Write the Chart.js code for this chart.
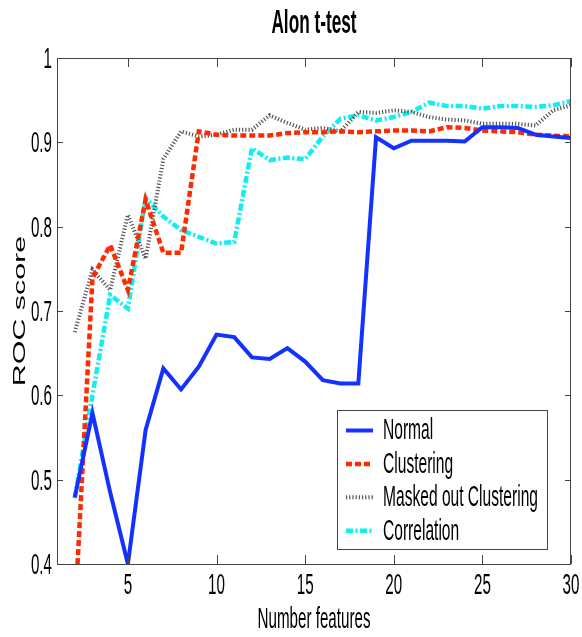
<!DOCTYPE html>
<html>
<head>
<meta charset="utf-8">
<script src="https://cdn.jsdelivr.net/npm/chart.js@4/dist/chart.umd.min.js"></script>
<style>
  html, body { margin: 0; padding: 0; background: #fff; }
  canvas { display: block; }
</style>
</head>
<body>
<canvas id="rocChart" width="582" height="637"></canvas>
<script>
// number of selected features
const features = [2, 3, 4, 5, 6, 7, 8, 9, 10, 11, 12, 13, 14, 15, 16, 17, 18, 19, 20, 21, 22, 23, 24, 25, 26, 27, 28, 29, 30];

// ROC score per method
const normal = [0.479, 0.579, 0.485, 0.400, 0.559, 0.632, 0.607, 0.634, 0.672, 0.669, 0.645, 0.643, 0.656, 0.640, 0.618,
  0.614, 0.614, 0.906, 0.893, 0.902, 0.902, 0.902, 0.901, 0.918, 0.918, 0.917, 0.909, 0.907, 0.905];
const clustering = [0.336, 0.739, 0.778, 0.725, 0.832, 0.769, 0.769, 0.913, 0.909, 0.908, 0.908, 0.908, 0.911, 0.912, 0.912,
  0.913, 0.912, 0.913, 0.914, 0.914, 0.913, 0.918, 0.917, 0.914, 0.913, 0.912, 0.909, 0.908, 0.907];
const maskedClustering = [0.675, 0.749, 0.725, 0.814, 0.762, 0.880, 0.913, 0.907, 0.909, 0.915, 0.915, 0.932, 0.923, 0.915, 0.917,
  0.913, 0.936, 0.935, 0.938, 0.936, 0.930, 0.927, 0.926, 0.922, 0.922, 0.922, 0.920, 0.938, 0.944];
const correlation = [0.478, 0.600, 0.719, 0.703, 0.834, 0.812, 0.796, 0.788, 0.780, 0.782, 0.893, 0.879, 0.882, 0.880, 0.907,
  0.928, 0.932, 0.926, 0.930, 0.936, 0.947, 0.943, 0.943, 0.940, 0.943, 0.943, 0.942, 0.944, 0.949];

const xTicks = [5, 10, 15, 20, 25, 30];
const yTicks = [0.4, 0.5, 0.6, 0.7, 0.8, 0.9, 1];
const yTickLabels = ["0.4", "0.5", "0.6", "0.7", "0.8", "0.9", "1"];

const titleText = "Alon t-test";
const xTitle = "Number features";
const yTitle = "ROC score";

const points = (vals) => vals.map((v, i) => ({ x: features[i], y: v }));

// tall, condensed lettering like the old figure export
const SX = 0.82, SY = 1.6;
function stretchText(ctx, str, x, y, size, opts = {}) {
  ctx.save();
  ctx.translate(x, y);
  if (opts.rotate) {
    ctx.rotate(-Math.PI / 2);
    ctx.scale(SY, SX);
  } else {
    ctx.scale(SX, SY);
  }
  ctx.font = (opts.bold ? "bold " : "") + size + "px 'Liberation Sans', Arial, sans-serif";
  ctx.fillStyle = "#000";
  ctx.textAlign = opts.align || "center";
  ctx.textBaseline = "middle";
  ctx.fillText(str, 0, 0);
  ctx.restore();
}

const matlabAxes = {
  id: "matlabAxes",
  afterDatasetsDraw(chart) {
    const { ctx, chartArea: a, scales } = chart;
    ctx.save();
    ctx.strokeStyle = "#444";
    ctx.lineWidth = 1;
    ctx.setLineDash([]);
    ctx.strokeRect(a.left + 0.5, a.top + 0.5, a.right - a.left - 1, a.bottom - a.top);

    // inward ticks on every side
    ctx.beginPath();
    scales.x.ticks.forEach(t => {
      const px = Math.round(scales.x.getPixelForValue(t.value)) + 0.5;
      ctx.moveTo(px, a.bottom); ctx.lineTo(px, a.bottom - 9);
      ctx.moveTo(px, a.top); ctx.lineTo(px, a.top + 9);
    });
    scales.y.ticks.forEach(t => {
      const py = Math.round(scales.y.getPixelForValue(t.value)) + 0.5;
      ctx.moveTo(a.left, py); ctx.lineTo(a.left + 6, py);
      ctx.moveTo(a.right, py); ctx.lineTo(a.right - 6, py);
    });
    ctx.stroke();
    ctx.restore();

    scales.x.ticks.forEach(t => {
      stretchText(ctx, String(t.value), scales.x.getPixelForValue(t.value), 586, 18.5);
    });
    scales.y.ticks.forEach((t, i) => {
      stretchText(ctx, yTickLabels[i], 52, scales.y.getPixelForValue(t.value) + 2, 18.5, { align: "right" });
    });

    const cx = (a.left + a.right) / 2;
    stretchText(ctx, titleText, cx, 24, 21, { bold: true });
    stretchText(ctx, xTitle, cx, 620, 18.5);
    stretchText(ctx, yTitle, 21, (a.top + a.bottom) / 2, 19, { rotate: true });

    // legend box, lower right
    ctx.save();
    ctx.fillStyle = "#fff";
    ctx.fillRect(337, 410, 210, 140);
    ctx.strokeStyle = "#444";
    ctx.lineWidth = 1;
    ctx.strokeRect(337.5, 410.5, 210, 139);
    chart.data.datasets.forEach((ds, i) => {
      const y = 430.5 + i * 33.4;
      ctx.strokeStyle = ds.borderColor;
      ctx.lineWidth = ds.borderWidth;
      ctx.setLineDash(ds.borderDash || []);
      ctx.beginPath();
      ctx.moveTo(346, y);
      ctx.lineTo(373, y);
      ctx.stroke();
    });
    ctx.restore();
    chart.data.datasets.forEach((ds, i) => {
      stretchText(ctx, ds.label, 383, 431 + i * 33.4, 19, { align: "left" });
    });
  }
};

new Chart(document.getElementById("rocChart"), {
  type: "line",
  data: {
    datasets: [
      { label: "Normal", data: points(normal), borderColor: "#1432ff", borderWidth: 4 },
      { label: "Clustering", data: points(clustering), borderColor: "#ff2a00", borderWidth: 4.5, borderDash: [6, 3] },
      { label: "Masked out Clustering", data: points(maskedClustering), borderColor: "#555", borderWidth: 4, borderDash: [1.2, 2] },
      { label: "Correlation", data: points(correlation), borderColor: "#10eef0", borderWidth: 4.5, borderDash: [7, 2.5, 2, 2.5] }
    ]
  },
  options: {
    responsive: false,
    animation: false,
    devicePixelRatio: 1,
    layout: { padding: { top: 58, right: 11, left: 0, bottom: 0 } },
    elements: {
      point: { radius: 0 },
      line: { tension: 0, borderCapStyle: "butt" }
    },
    plugins: {
      legend: { display: false },
      title: { display: false },
      tooltip: { enabled: false }
    },
    scales: {
      x: {
        type: "linear",
        min: 1,
        max: 30,
        grid: { display: false },
        border: { display: false },
        ticks: { display: false },
        afterBuildTicks: s => { s.ticks = xTicks.map(v => ({ value: v })); },
        afterFit: s => { s.height = 73; }
      },
      y: {
        min: 0.4,
        max: 1,
        grid: { display: false },
        border: { display: false },
        ticks: { display: false },
        afterBuildTicks: s => { s.ticks = yTicks.map(v => ({ value: v })); },
        afterFit: s => { s.width = 57; }
      }
    }
  },
  plugins: [matlabAxes]
});
</script>
</body>
</html>
